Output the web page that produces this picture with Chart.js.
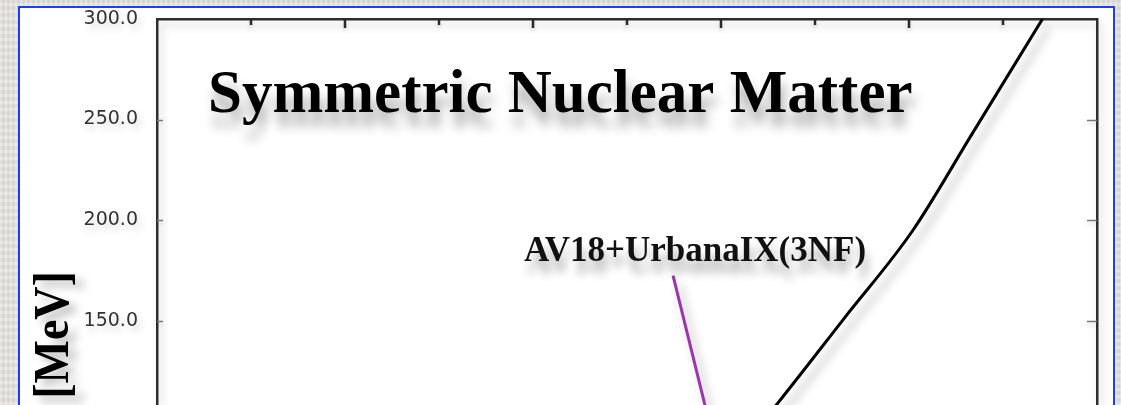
<!DOCTYPE html>
<html>
<head>
<meta charset="utf-8">
<title>Symmetric Nuclear Matter</title>
<script src="https://cdn.jsdelivr.net/npm/chart.js@4.4.1/dist/chart.umd.min.js"></script>
<style>
  html, body {
    margin: 0;
    padding: 0;
    width: 1121px;
    height: 405px;
    overflow: hidden;
  }
  body {
    position: relative;
    background-color: #e3e1dd;
    background-image:
      repeating-linear-gradient(90deg, rgba(255,255,255,0.22) 0 2px, rgba(0,0,0,0.025) 2px 5px),
      repeating-linear-gradient(0deg, rgba(255,255,255,0.18) 0 3px, rgba(0,0,0,0.03) 3px 7px);
  }
  #frame {
    position: absolute;
    left: 18px;
    top: 6px;
    width: 1093px;
    height: 520px;
    border: 2px solid #1d3cff;
    background: #ffffff;
  }
  #chart {
    position: absolute;
    left: 0;
    top: 0;
  }
</style>
</head>
<body>
<div id="frame"></div>
<canvas id="chart" width="1121" height="405"></canvas>
<script>
// Energy per nucleon of symmetric nuclear matter versus baryon density
const densityTicks = [0, 0.1, 0.2, 0.3, 0.4, 0.5, 0.6, 0.7, 0.8, 0.9, 1.0];
const energyTicks = [150, 200, 250, 300];
const density = [0.645, 0.660, 0.730, 0.804, 0.866, 0.942];
const energyPerNucleon = [100.2, 108.7, 150.5, 194.8, 242.0, 300.0];

// leader line from the curve label towards the curve
const leaderDensity = [0.549, 0.587];
const leaderEnergy = [172.4, 100.2];

const chartTitle = 'Symmetric Nuclear Matter';
const curveLabel = 'AV18+UrbanaIX(3NF)';
const yAxisTitle = '[MeV]';

const toPoints = (xs, ys) => xs.map((x, i) => ({ x: x, y: ys[i] }));

const serifBold = (size) => 'bold ' + size + 'px "Liberation Serif", "Times New Roman", serif';

// keep the plot frame exactly where the layout padding puts it
const noScalePadding = s => {
  s.paddingTop = 0;
  s.paddingBottom = 0;
  s.paddingLeft = 0;
  s.paddingRight = 0;
};

const decor = {
  id: 'decor',
  beforeDraw(chart) {
    // soft drop shadow under axes and tick labels
    const ctx = chart.ctx;
    ctx.save();
    ctx.shadowColor = 'rgba(0,0,0,0.20)';
    ctx.shadowBlur = 8;
    ctx.shadowOffsetX = 3;
    ctx.shadowOffsetY = 5;
  },
  beforeDatasetsDraw(chart) {
    const ctx = chart.ctx;
    ctx.restore();
    ctx.save();
    ctx.shadowColor = 'rgba(0,0,0,0.30)';
    ctx.shadowBlur = 10;
    ctx.shadowOffsetX = 6;
    ctx.shadowOffsetY = 9;
  },
  afterDatasetsDraw(chart) {
    chart.ctx.restore();
  },
  afterDraw(chart) {
    const { ctx, chartArea: a, scales } = chart;
    const xs = scales.x, ys = scales.y;

    // inward tick marks on the top, left and right frame
    ctx.save();
    ctx.shadowColor = 'rgba(0,0,0,0.18)';
    ctx.shadowBlur = 4;
    ctx.shadowOffsetY = 3;
    ctx.strokeStyle = '#2a2a2a';
    ctx.lineWidth = 2.5;
    densityTicks.forEach(v => {
      if (v <= xs.min || v >= xs.max) return;
      const px = Math.round(xs.getPixelForValue(v));
      const major = Math.round(v * 10) % 2 === 0;
      ctx.beginPath();
      ctx.moveTo(px, a.top);
      ctx.lineTo(px, a.top + (major ? 9 : 6));
      ctx.stroke();
    });
    ctx.strokeStyle = '#7a7a7a';
    ctx.lineWidth = 1.5;
    energyTicks.forEach(v => {
      if (v >= ys.max) return;
      const py = Math.round(ys.getPixelForValue(v)) + 0.5;
      ctx.beginPath();
      ctx.moveTo(a.left, py);
      ctx.lineTo(a.left + 6, py);
      ctx.moveTo(a.right, py);
      ctx.lineTo(a.right - 10, py);
      ctx.stroke();
    });
    ctx.restore();

    // heading and curve label
    ctx.save();
    ctx.fillStyle = '#000';
    ctx.shadowColor = 'rgba(0,0,0,0.33)';
    ctx.shadowBlur = 12;
    ctx.shadowOffsetX = 3;
    ctx.shadowOffsetY = 14;
    ctx.textBaseline = 'alphabetic';
    ctx.textAlign = 'left';
    ctx.font = serifBold(61);
    ctx.fillText(chartTitle, a.left + 51, a.top + 93);

    ctx.shadowBlur = 10;
    ctx.shadowOffsetY = 12;
    ctx.fillStyle = '#111';
    ctx.textAlign = 'center';
    ctx.font = serifBold(35);
    ctx.fillText(curveLabel, 695, 261);
    ctx.restore();

    // vertical axis title
    ctx.save();
    ctx.fillStyle = '#000';
    ctx.shadowColor = 'rgba(0,0,0,0.28)';
    ctx.shadowBlur = 10;
    ctx.shadowOffsetX = 8;
    ctx.shadowOffsetY = 6;
    ctx.translate(68, 335);
    ctx.rotate(-Math.PI / 2);
    ctx.scale(1, 1.1);
    ctx.textAlign = 'center';
    ctx.textBaseline = 'alphabetic';
    ctx.font = serifBold(46);
    ctx.fillText(yAxisTitle, 0, 0);
    ctx.restore();
  }
};

new Chart(document.getElementById('chart'), {
  type: 'line',
  data: {
    datasets: [
      {
        label: 'AV18+UIX',
        data: toPoints(density, energyPerNucleon),
        borderColor: '#000000',
        borderWidth: 3,
        pointRadius: 0,
        cubicInterpolationMode: 'monotone'
      },
      {
        label: 'leader',
        data: toPoints(leaderDensity, leaderEnergy),
        borderColor: '#9a35ad',
        borderWidth: 3,
        pointRadius: 0
      }
    ]
  },
  options: {
    responsive: false,
    animation: false,
    events: [],
    layout: { padding: { top: 19, right: 24, bottom: 0, left: 0 } },
    plugins: {
      legend: { display: false },
      tooltip: { enabled: false },
      title: { display: false }
    },
    scales: {
      x: {
        type: 'linear',
        position: 'top',
        min: densityTicks[0],
        max: densityTicks[densityTicks.length - 1],
        ticks: { display: false },
        grid: { display: false, drawTicks: false },
        border: { display: true, color: '#2e2e2e', width: 2.5 },
        afterFit: s => { s.height = 0; noScalePadding(s); }
      },
      y: {
        type: 'linear',
        position: 'left',
        min: 108,
        max: 300,
        afterBuildTicks: s => { s.ticks = energyTicks.map(v => ({ value: v })); },
        ticks: {
          callback: v => Number(v).toFixed(1),
          font: { family: '"DejaVu Sans", sans-serif', size: 19 },
          color: '#333333',
          padding: 19
        },
        grid: { display: false, drawTicks: false },
        border: { display: true, color: '#2e2e2e', width: 2.5 },
        afterFit: s => { s.width = 157; noScalePadding(s); }
      },
      y2: {
        type: 'linear',
        position: 'right',
        min: 108,
        max: 300,
        ticks: { display: false },
        grid: { display: false, drawTicks: false },
        border: { display: true, color: '#2e2e2e', width: 2.5 },
        afterFit: s => { s.width = 0; noScalePadding(s); }
      }
    }
  },
  plugins: [decor]
});
</script>
</body>
</html>
